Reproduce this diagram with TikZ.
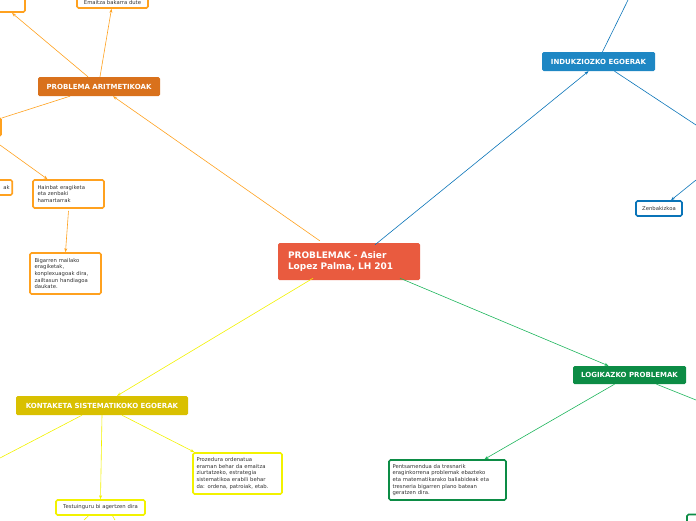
\documentclass[tikz,border=0pt]{standalone}
\usepackage{fontspec}
\setmainfont{DejaVu Sans}
\usetikzlibrary{arrows.meta}
\definecolor{cred}{HTML}{E95B3F}
\definecolor{corg}{HTML}{D9711C}
\definecolor{corl}{HTML}{FFA11F}
\definecolor{cblu}{HTML}{1E87C4}
\definecolor{cbll}{HTML}{0A74B8}
\definecolor{cgrn}{HTML}{0C8C45}
\definecolor{cgrl}{HTML}{1DB55C}
\definecolor{cyel}{HTML}{D9C000}
\definecolor{cyll}{HTML}{F2F200}
\tikzset{
 main/.style={rounded corners=1.5pt,text=white,font=\bfseries\fontsize{7}{8}\selectfont,inner sep=0pt},
 leaf/.style={draw,line width=1.6pt,rounded corners=1.5pt,fill=white,text=black!80,font=\fontsize{5.3}{6.6}\selectfont,align=left,inner sep=0pt},
 txt/.style={text=black!80,font=\fontsize{5.3}{6.6}\selectfont,inner sep=0pt},
 con/.style={line width=0.6pt,-{Stealth[length=4pt,width=3pt]}},
 conn/.style={line width=0.6pt},
}
\begin{document}
\begin{tikzpicture}[x=1pt,y=-1pt]
\useasboundingbox (0,0) rectangle (696,520);
% nodes
\node[main,fill=cred,minimum width=142,minimum height=37,font=\bfseries\fontsize{9}{11}\selectfont,align=left,text width=122] (c) at (349,261.5) {PROBLEMAK - Asier\\Lopez Palma, LH 201};
\node[main,fill=corg,minimum width=122,minimum height=19] (ar) at (99,86.5) {PROBLEMA ARITMETIKOAK};
\node[main,fill=cblu,minimum width=113,minimum height=19] (in) at (598.5,61.5) {INDUKZIOZKO EGOERAK};
\node[main,fill=cgrn,minimum width=113,minimum height=18] (lo) at (629.5,375) {LOGIKAZKO PROBLEMAK};
\node[main,fill=cyel,minimum width=172,minimum height=19] (ko) at (102,405.5) {KONTAKETA SISTEMATIKOKO EGOERAK};
% leaves orange
\node[leaf,draw=corl,minimum width=40,minimum height=20] (tl) at (5,2) {};
\node[leaf,draw=corl,minimum width=71,minimum height=16] (em) at (112.5,0) {};
\node[txt] (emt) at (112.5,3) {Emaitza bakarra dute};
\node[leaf,draw=corl,minimum width=20,minimum height=18] (ml) at (-9,127) {};
\node[leaf,draw=corl,minimum width=36,minimum height=15,anchor=east] (ak) at (13,187.5) {};
\node[txt,anchor=east] (akt) at (10,187.5) {ak};
\node[leaf,draw=corl,minimum width=71,minimum height=28,text width=62] (ha) at (68.5,194) {Hainbat eragiketa\\eta zenbaki\\hamartarrak};
\node[leaf,draw=corl,minimum width=71,minimum height=41,text width=62] (bi) at (65.5,273.5) {Bigarren mailako\\eragiketak,\\konplexuagoak dira,\\zailtasun handiagoa\\daukate.};
% blue
\node[leaf,draw=cbll,minimum width=46,minimum height=15] (ze) at (659,208.5) {Zenbakizkoa};
% green
\node[leaf,draw=cgrn,minimum width=117,minimum height=40,text width=110] (pe) at (447.5,480) {Pentsamendua da tresnarik\\eraginkorrena problemak ebazteko\\eta matematikarako baliabideak eta\\tresneria bigarren plano batean\\geratzen dira.};
\node[leaf,draw=cgrn,minimum width=20,minimum height=15] (br) at (697,522) {};
% yellow
\node[leaf,draw=cyll,minimum width=89,minimum height=41,text width=82] (pr) at (237.5,473.5) {Prozedura ordenatua\\eraman behar da emaitza\\ziurtatzeko, estrategia\\sistematikoa erabili behar\\da: ordena, patroiak, etab.};
\node[leaf,draw=cyll,minimum width=89,minimum height=15] (te) at (100.5,507.5) {Testuinguru bi agertzen dira};
% coordinates for free ends
\coordinate (e1) at (628,0);
\coordinate (e2) at (696,125);
\coordinate (e3) at (696,180);
\coordinate (e4) at (696,400);
\coordinate (e5) at (0,458);
\coordinate (e6) at (84,520);
\coordinate (e7) at (115,520);
% connectors
\draw[con,corl] (c.north west)++(42,-2) -- ([xshift=14pt]ar.south);
\draw[con,cbll] ([xshift=26pt,yshift=-2pt]c.north) -- ([xshift=-10pt]in.south);
\draw[con,cgrl] ([xshift=51pt,yshift=2pt]c.south) -- ([xshift=-21pt]lo.north);
\draw[con,cyll] ([xshift=-36pt,yshift=2pt]c.south) -- ([xshift=15pt]ko.north);
\draw[con,corl] ([xshift=1pt]ar.north) -- ([xshift=-1pt]em.south);
\draw[con,corl] ([xshift=-11pt]ar.north) -- (12,13);
\draw[conn,corl] ([xshift=-29pt]ar.south) -- (ml.east|-0,118);
\draw[con,corl] (0,145) -- ([xshift=-21pt]ha.north);
\draw[con,corl] ([yshift=-2pt]ha.south) -- (bi.north);
\draw[conn,cbll] ([xshift=4pt]in.north) -- (e1);
\draw[conn,cbll] ([xshift=16pt]in.south) -- (e2);
\draw[con,cbll] (e3) -- ([xshift=12pt]ze.north);
\draw[conn,cgrl] ([xshift=27pt]lo.south) -- (e4);
\draw[con,cgrl] ([xshift=-15pt]lo.south) -- ([xshift=37pt]pe.north);
\draw[conn,cyll] ([xshift=-20pt]ko.south) -- (e5);
\draw[con,cyll] (ko.south) -- (te.north);
\draw[con,cyll] ([xshift=20pt]ko.south) -- ([xshift=-43pt]pr.north);
\draw[conn,cyll] ([xshift=-12pt]te.south) -- (e6);
\draw[conn,cyll] ([xshift=12pt]te.south) -- (e7);
\end{tikzpicture}
\end{document}
